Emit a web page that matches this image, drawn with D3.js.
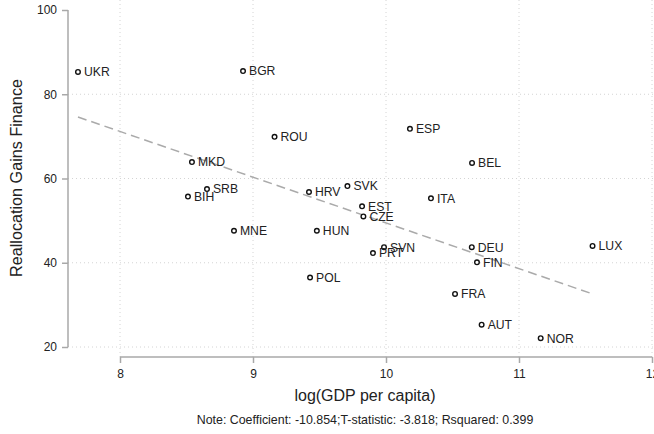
<!DOCTYPE html>
<html><head><meta charset="utf-8">
<script src="https://cdn.jsdelivr.net/npm/d3@7"></script>
<style>body{margin:0;background:#fff;}svg{display:block;font-family:"Liberation Sans",Arial,sans-serif;}</style>
</head><body>
<svg id="c" width="654" height="434"></svg>
<script>
const countries = ["UKR","BGR","ROU","ESP","MKD","BEL","SRB","BIH","HRV","SVK","EST","CZE","ITA","MNE","HUN","SVN","PRT","DEU","FIN","LUX","POL","FRA","AUT","NOR"];
const logGDP = [7.684,8.925,9.162,10.180,8.541,10.647,8.654,8.511,9.421,9.710,9.820,9.830,10.338,8.857,9.480,9.985,9.902,10.645,10.684,11.553,9.429,10.519,10.719,11.163];
const gains = [85.3,85.5,69.9,71.8,63.9,63.7,57.5,55.7,56.8,58.2,53.4,51.0,55.3,47.6,47.6,43.7,42.3,43.7,40.1,44.0,36.5,32.6,25.3,22.1];
const xTicks = [8,9,10,11,12];
const yTicks = [20,40,60,80,100];
const fitCoef = -10.854, fitIntercept = 158.0;
const note = "Note: Coefficient: -10.854;T-statistic: -3.818; Rsquared: 0.399";

const svg = d3.select("#c");
const x = d3.scaleLinear().domain([8,12]).range([120,652]);
const y = d3.scaleLinear().domain([20,100]).range([347,10]);

// grid
const g = svg.append("g");
g.selectAll(".vg").data(xTicks).join("line")
  .attr("x1",d=>x(d)).attr("x2",d=>x(d)).attr("y1",0).attr("y2",357)
  .attr("stroke","#d4d4d4").attr("stroke-width",1).attr("stroke-dasharray","1,3");
g.selectAll(".hg").data(yTicks.filter(d=>d<100)).join("line")
  .attr("x1",68).attr("x2",654).attr("y1",d=>y(d)).attr("y2",d=>y(d))
  .attr("stroke","#d4d4d4").attr("stroke-width",1).attr("stroke-dasharray","1,3");

// axes
const yAxis = svg.append("g").attr("transform","translate(68,0)")
  .call(d3.axisLeft(y).tickValues(yTicks).tickFormat(d3.format("d")).tickSize(6).tickPadding(5));
const xAxis = svg.append("g").attr("transform","translate(0,357)")
  .call(d3.axisBottom(x).tickValues(xTicks).tickFormat(d3.format("d")).tickSize(6).tickPadding(6));
[yAxis,xAxis].forEach(a=>{
  a.select(".domain").attr("stroke","#a8a8a8").attr("stroke-width",1.5);
  a.selectAll(".tick line").attr("stroke","#a8a8a8").attr("stroke-width",1.5);
  a.selectAll(".tick text").attr("fill","#222").style("font-size","12px").style("font-family","Liberation Sans, Arial, sans-serif");
});
yAxis.select(".domain").attr("d","M0,"+y(100)+"V"+y(20));
xAxis.select(".domain").attr("d","M"+x(8)+",0H"+x(12));

// fit line
const xmin = d3.min(logGDP), xmax = d3.max(logGDP);
svg.append("line")
  .attr("x1",x(xmin)).attr("y1",y(fitIntercept+fitCoef*xmin))
  .attr("x2",x(xmax)).attr("y2",y(fitIntercept+fitCoef*xmax))
  .attr("stroke","#aaaaaa").attr("stroke-width",1.5).attr("stroke-dasharray","9,5");

// points
const data = countries.map((c,i)=>({c, gx:logGDP[i], gy:gains[i]}));
svg.selectAll(".pt").data(data).join("circle")
  .attr("cx",d=>x(d.gx)).attr("cy",d=>y(d.gy)).attr("r",2.3)
  .attr("fill","#fff").attr("stroke","#111").attr("stroke-width",1.4);
svg.selectAll(".lb").data(data).join("text")
  .attr("x",d=>x(d.gx)+6).attr("y",d=>y(d.gy)+4.4)
  .attr("fill","#222").style("font-size","12.2px").text(d=>d.c);

// titles
svg.append("text").attr("transform","translate(22,178) rotate(-90)")
  .attr("text-anchor","middle").attr("fill","#222").style("font-size","16.2px")
  .text("Reallocation Gains Finance");
svg.append("text").attr("x",365).attr("y",401).attr("text-anchor","middle")
  .attr("fill","#222").style("font-size","16px").text("log(GDP per capita)");
svg.append("text").attr("x",365).attr("y",424).attr("text-anchor","middle")
  .attr("fill","#222").style("font-size","12.4px").text(note);
</script>
</body></html>
